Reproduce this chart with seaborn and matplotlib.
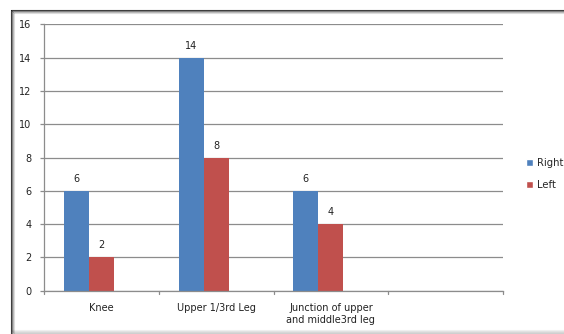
import matplotlib
matplotlib.use("Agg")
import matplotlib.pyplot as plt
import seaborn as sns
import pandas as pd
import numpy as np
from matplotlib.patches import Patch
from matplotlib.lines import Line2D

categories = ["Knee", "Upper 1/3rd Leg", "Junction of upper\nand middle3rd leg", ""]
right_vals = [6, 14, 6, np.nan]
left_vals = [2, 8, 4, np.nan]
series = ["Right", "Left", " "]
yticks = [0, 2, 4, 6, 8, 10, 12, 14, 16]

blue = "#4F81BD"
red = "#C0504D"
grid_c = "#8C8C8C"

rows = []
for c, r, l in zip(categories, right_vals, left_vals):
    rows.append({"cat": c, "series": "Right", "val": r})
    rows.append({"cat": c, "series": "Left", "val": l})
    rows.append({"cat": c, "series": " ", "val": np.nan})
df = pd.DataFrame(rows)

sns.set_style("white")
plt.rcParams["font.family"] = ["DejaVu Sans"]

W, H = 564, 334
fig = plt.figure(figsize=(W / 100, H / 100), dpi=100)
fig.patch.set_facecolor("white")

# outer frame with shadow
for i, a in enumerate([0.75, 0.45, 0.25, 0.12]):
    fig.add_artist(Line2D([(11 + i) / W, 1], [1 - (10 + i) / H] * 2, transform=fig.transFigure,
                          color="black", alpha=a, lw=0.8))
    fig.add_artist(Line2D([(11 + i) / W] * 2, [1 - (10 + i) / H, 0], transform=fig.transFigure,
                          color="black", alpha=a, lw=0.8))
for i, a in enumerate([0.06, 0.1, 0.14, 0.18]):
    fig.add_artist(Line2D([(11 + i) / W, 1], [(4 - i) / H] * 2, transform=fig.transFigure,
                          color="black", alpha=a, lw=0.8))

ax = fig.add_axes([44 / W, 1 - 290.7 / H, (503 - 44) / W, (290.7 - 24.3) / H])
ax.set_facecolor("none")

sns.barplot(data=df, x="cat", y="val", hue="series", order=categories,
            hue_order=series, palette=[blue, red, "white"], width=0.655,
            dodge=True, ax=ax, errorbar=None, legend=False, saturation=1,
            linewidth=0, edgecolor="none")

ax.set_ylim(0, 16)
ax.set_xlim(-0.5, 3.5)
ax.set_yticks(yticks)
ax.set_yticklabels([str(t) for t in yticks], fontsize=7, color="#222222")
ax.yaxis.grid(True, color=grid_c, lw=0.9)
ax.set_axisbelow(True)
ax.set_xlabel("")
ax.set_ylabel("")

for c in ax.containers:
    labs = ["" if (np.isnan(v)) else f"{int(v)}" for v in c.datavalues]
    ax.bar_label(c, labels=labs, padding=5, fontsize=7, color="#222222")

ax.set_xticks([0, 1, 2, 3])
ax.set_xticklabels(categories, fontsize=7, color="#222222")
ax.tick_params(axis="x", length=0, pad=9)
ax.tick_params(axis="y", length=3, color=grid_c, width=0.9, pad=6, left=True)
for x in [-0.5, 0.5, 1.5, 2.5, 3.5]:
    ax.plot([x, x], [0, -0.22], color=grid_c, lw=0.9, clip_on=False)

for s in ["top", "right"]:
    ax.spines[s].set_visible(False)
ax.spines["left"].set_color(grid_c)
ax.spines["bottom"].set_color(grid_c)
ax.spines["left"].set_linewidth(0.9)
ax.spines["bottom"].set_linewidth(0.9)

handles = [Patch(facecolor=blue, label="Right"), Patch(facecolor=red, label="Left")]
fig.legend(handles=handles, loc="center left", bbox_to_anchor=(517 / W, 1 - 174 / H),
           frameon=False, fontsize=7.2, handlelength=0.7, handleheight=0.7,
           handletextpad=0.4, labelspacing=1.25)

fig.savefig("out.png", dpi=100)
